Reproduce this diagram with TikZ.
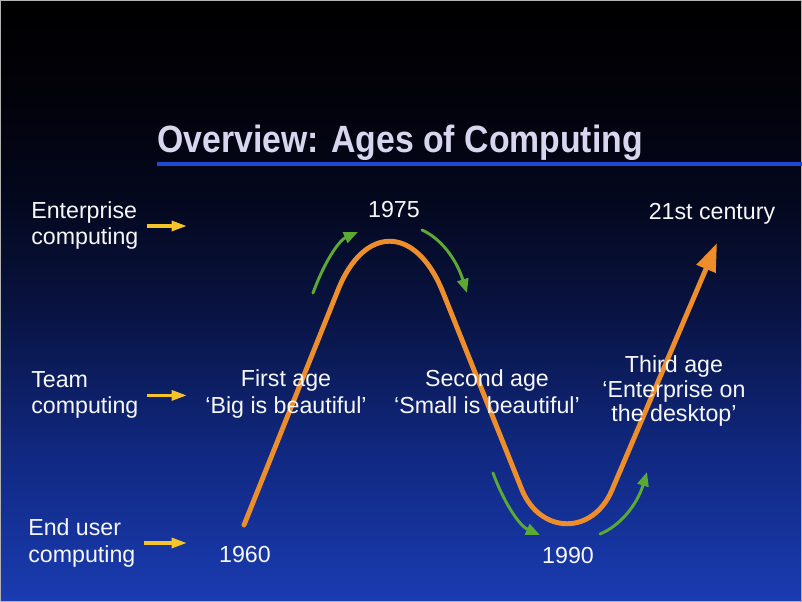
\documentclass[tikz,border=0pt]{standalone}
\usepackage{fontspec}
\setmainfont{Liberation Sans}
\usetikzlibrary{arrows.meta}
\definecolor{orng}{RGB}{238,142,42}
\definecolor{grn}{RGB}{90,170,52}
\definecolor{yel}{RGB}{246,196,40}
\definecolor{ttl}{RGB}{214,214,238}
\definecolor{rulecol}{RGB}{34,72,210}
\definecolor{bgA}{RGB}{26,60,178}
\definecolor{bgB}{RGB}{16,40,128}
\definecolor{bgC}{RGB}{8,18,62}
\definecolor{bgD}{RGB}{4,8,30}
\definecolor{bgE}{RGB}{2,2,10}
\pgfdeclareverticalshading{slide}{100bp}{color(0bp)=(bgA); color(25bp)=(bgA);
  color(37.5bp)=(bgB); color(50bp)=(bgC); color(58.4bp)=(bgD);
  color(66.7bp)=(bgE); color(75bp)=(black); color(100bp)=(black)}
\begin{document}
\begin{tikzpicture}[x=0.025cm,y=-0.025cm,
    lbl/.style={text=white!94!gray,inner sep=0pt,font=\fontsize{16.5}{18.5}\selectfont},
    feed/.style={yel,line width=2.5pt,-{Triangle[length=11pt,width=7pt]}},
    wave/.style={orng,line width=3.5pt,line cap=round,-{Triangle[length=20pt,width=14pt]}},
    turn/.style={grn,line width=2.1pt,line cap=round,-{Triangle[length=10pt,width=8pt]}}]
  \useasboundingbox (0,0) rectangle (802,602);
  \shade[shading=slide] (0,0) rectangle (802,602);
  \draw[gray!60,line width=1.4pt] (0,0) rectangle (802,602);
  % title and rule
  \node[anchor=base west,text=ttl,inner sep=0pt,font=\fontsize{27}{30}\selectfont\bfseries]
    (title) at (157,153) {\scalebox{0.89}[1]{Overview: Ages of Computing}};
  \coordinate (R) at (802,164);
  \draw[rulecol,line width=2.8pt] (title.west |- R) -- (R);
  % levels (base = last line)
  \node[lbl,anchor=base west,align=left] (ent) at (31,245) {Enterprise\\computing};
  \node[lbl,anchor=base west,align=left] (team) at (31,414) {Team\\computing};
  \node[lbl,anchor=base west,align=left] (endu) at (28,562) {End user\\computing};
  \coordinate (tipx) at (187,0);
  \foreach \n in {ent,team,endu}
    \draw[feed] ([xshift=6pt]\n.east) -- (\n.east -| tipx);
  % years
  \node[lbl,anchor=base] (y1975) at (394,218) {1975};
  \node[lbl,anchor=base] (y21) at (712,220) {21st century};
  \node[lbl,anchor=base] (y1960) at (245,562) {1960};
  \node[lbl,anchor=base] (y1990) at (568,563) {1990};
  % the curve
  \coordinate (A) at (244,525); \coordinate (B) at (338,290);
  \coordinate (C) at (442,290); \coordinate (D) at (522,490);
  \coordinate (E) at (612,490); \coordinate (F) at (717,243);
  \draw[wave] (A) -- (B) .. controls (364,225) and (415,225) .. (C)
    -- (D) .. controls (541,535) and (593,535) .. (E) -- (F);
  \draw[turn] (313,293) .. controls (326,258) and (340,240) .. (358,232);
  \draw[turn] (422,230) .. controls (440,238) and (456,258) .. (467,293);
  \draw[turn] (493,473) .. controls (505,505) and (520,526) .. (540,535);
  \draw[turn] (600,534) .. controls (620,526) and (637,505) .. (647,472);
  % ages
  \node[lbl,anchor=base,align=center] (age1) at (286,413) {First age\\‘Big is beautiful’};
  \node[lbl,anchor=base,align=center] (age2) at (487,413) {Second age\\‘Small is beautiful’};
  \node[lbl,anchor=base,align=center,font=\fontsize{16.5}{17.5}\selectfont]
    (age3) at (674,422) {Third age\\‘Enterprise on\\the desktop’};
\end{tikzpicture}
\end{document}
